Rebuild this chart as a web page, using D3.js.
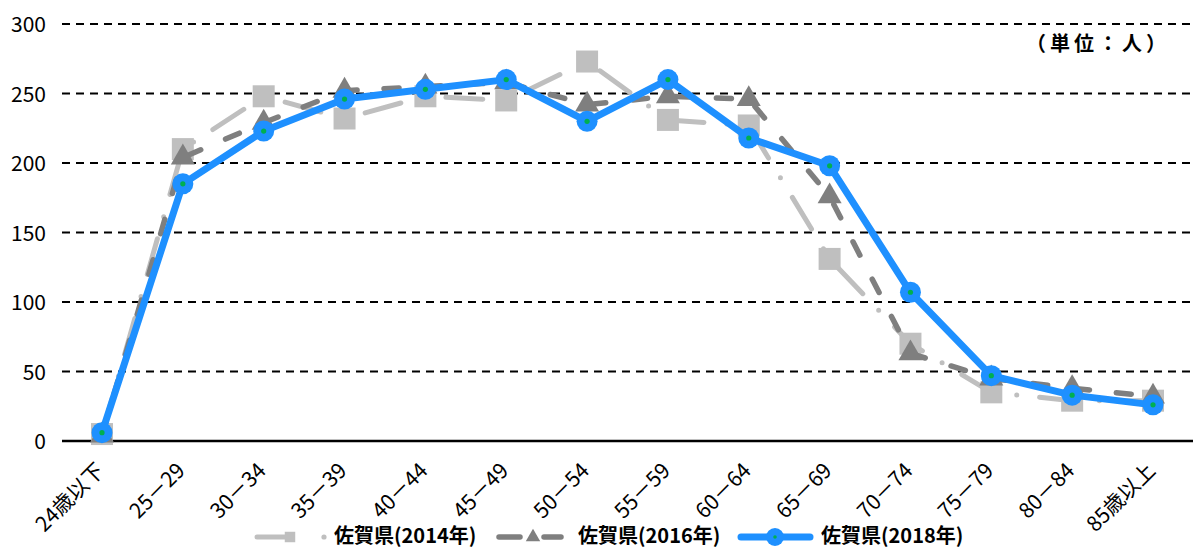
<!DOCTYPE html>
<html><head><meta charset="utf-8">
<script src="https://cdn.jsdelivr.net/npm/d3@7"></script>
<style>
html,body{margin:0;padding:0;background:#fff;}
svg{display:block;}
.lab{font-family:"Noto Sans CJK JP","DejaVu Sans",sans-serif;}
</style></head>
<body>
<svg id="c" width="1193" height="550"></svg>
<script>
const categories = ["24歳以下","25－29","30－34","35－39","40－44","45－49","50－54","55－59","60－64","65－69","70－74","75－79","80－84","85歳以上"];
const s2014 = [5, 210, 248, 232, 248, 245, 273, 231, 227, 131, 70, 35, 29, 29];
const s2016 = [4, 204, 229, 252, 255, 258, 242, 248, 246, 176, 63, 45, 38, 32];
const s2018 = [6, 185, 223, 246, 253, 260, 230, 260, 218, 198, 107, 47, 33, 26];
const seriesNames = ["佐賀県(2014年)","佐賀県(2016年)","佐賀県(2018年)"];
const yTicks = [0, 50, 100, 150, 200, 250, 300];
const unitLabel = "（単位：人）";

const svg = d3.select("#c");
const x = d3.scalePoint().domain(categories).range([102, 1153]);
const y = d3.scaleLinear().domain([0, 300]).range([441, 24]);
const plotL = 62, plotR = 1193;

// grid
svg.append("g").selectAll("line").data(yTicks.filter(d => d > 0)).join("line")
  .attr("x1", plotL).attr("x2", plotR)
  .attr("y1", d => y(d)).attr("y2", d => y(d))
  .attr("stroke", "#000").attr("stroke-width", 2).attr("stroke-dasharray", "8,6");

// y axis
const ya = svg.append("g").attr("transform", "translate(46,0)")
  .call(d3.axisLeft(y).tickValues(yTicks).tickSize(0).tickPadding(0));
ya.select(".domain").remove();
ya.selectAll("text").attr("class", "lab").style("font-size", "21px").attr("fill", "#000")
  .attr("font-family", null).attr("dy", "0.36em");

// zero line
svg.append("line").attr("x1", plotL).attr("x2", plotR).attr("y1", y(0)).attr("y2", y(0))
  .attr("stroke", "#000").attr("stroke-width", 2.5);

// x axis
const xa = svg.append("g").attr("transform", `translate(0,${y(0)})`)
  .call(d3.axisBottom(x).tickSize(0));
xa.select(".domain").remove();
xa.selectAll("text").attr("class", "lab").attr("font-family", null).style("font-size", "21px")
  .attr("fill", "#000").attr("y", 0).attr("dy", 0)
  .attr("transform", "translate(3,31) rotate(-45)").style("text-anchor", "end");

const line = d3.line().x((d, i) => x(categories[i])).y(d => y(d));

const styles = [
  {data: s2014, color: "#bfbfbf", w: 5, dash: "37,23,0,23"},
  {data: s2016, color: "#7f7f7f", w: 5.5, dash: "15,27"},
  {data: s2018, color: "#1e90ff", w: 7, dash: null}
];

// 2014
svg.append("path").datum(s2014).attr("d", line).attr("fill", "none")
  .attr("stroke", styles[0].color).attr("stroke-width", styles[0].w)
  .attr("stroke-dasharray", styles[0].dash).attr("stroke-linecap", "round").attr("stroke-linejoin", "round");
svg.append("g").selectAll("path").data(s2014).join("path")
  .attr("d", d3.symbol(d3.symbolSquare, 484)())
  .attr("transform", (d, i) => `translate(${x(categories[i])},${y(d)})`)
  .attr("fill", styles[0].color);

// 2016
svg.append("path").datum(s2016).attr("d", line).attr("fill", "none")
  .attr("stroke", styles[1].color).attr("stroke-width", styles[1].w)
  .attr("stroke-dasharray", styles[1].dash).attr("stroke-linecap", "round").attr("stroke-linejoin", "round");
svg.append("g").selectAll("path").data(s2016).join("path")
  .attr("d", d3.symbol(d3.symbolTriangle, 250)())
  .attr("transform", (d, i) => `translate(${x(categories[i])},${y(d)})`)
  .attr("fill", styles[1].color);

// 2018
svg.append("path").datum(s2018).attr("d", line).attr("fill", "none")
  .attr("stroke", styles[2].color).attr("stroke-width", styles[2].w)
  .attr("stroke-linecap", "round").attr("stroke-linejoin", "round");
const g18 = svg.append("g");
g18.selectAll("circle.o").data(s2018).join("circle").attr("class", "o")
  .attr("cx", (d, i) => x(categories[i])).attr("cy", d => y(d)).attr("r", 10.5).attr("fill", styles[2].color);
g18.selectAll("circle.i").data(s2018).join("circle").attr("class", "i")
  .attr("cx", (d, i) => x(categories[i])).attr("cy", d => y(d)).attr("r", 2.6).attr("fill", "#00b050");

// unit label
svg.append("text").attr("class", "lab").attr("x", 1170).attr("y", 51)
  .attr("text-anchor", "end").style("font-size", "20px").style("font-weight", "bold")
  .style("letter-spacing", "4px").text(unitLabel);

// legend
const ly = 537;
const lg = svg.append("g");
// 2014 sample
lg.append("line").attr("x1", 257).attr("x2", 290).attr("y1", ly).attr("y2", ly)
  .attr("stroke", "#bfbfbf").attr("stroke-width", 5).attr("stroke-linecap", "round");
lg.append("circle").attr("cx", 324).attr("cy", ly).attr("r", 2.6).attr("fill", "#bfbfbf");
lg.append("path").attr("d", d3.symbol(d3.symbolSquare, 110)()).attr("transform", `translate(290,${ly})`).attr("fill", "#bfbfbf");
// 2016 sample
lg.append("line").attr("x1", 499).attr("x2", 520).attr("y1", ly).attr("y2", ly)
  .attr("stroke", "#7f7f7f").attr("stroke-width", 5.5).attr("stroke-linecap", "round");
lg.append("line").attr("x1", 544).attr("x2", 561).attr("y1", ly).attr("y2", ly)
  .attr("stroke", "#7f7f7f").attr("stroke-width", 5.5).attr("stroke-linecap", "round");
lg.append("path").attr("d", d3.symbol(d3.symbolTriangle, 90)()).attr("transform", `translate(533,${ly})`).attr("fill", "#7f7f7f");
// 2018 sample
lg.append("line").attr("x1", 741).attr("x2", 810).attr("y1", ly).attr("y2", ly)
  .attr("stroke", "#1e90ff").attr("stroke-width", 7).attr("stroke-linecap", "round");
lg.append("circle").attr("cx", 775).attr("cy", ly).attr("r", 9).attr("fill", "#1e90ff");
lg.append("circle").attr("cx", 775).attr("cy", ly).attr("r", 1.8).attr("fill", "#00b050");
const ltx = [334, 578, 821];
lg.selectAll("text").data(seriesNames).join("text").attr("class", "lab")
  .attr("x", (d, i) => ltx[i]).attr("y", 543)
  .style("font-size", "20px").style("font-weight", "bold").text(d => d);
</script>
</body></html>
